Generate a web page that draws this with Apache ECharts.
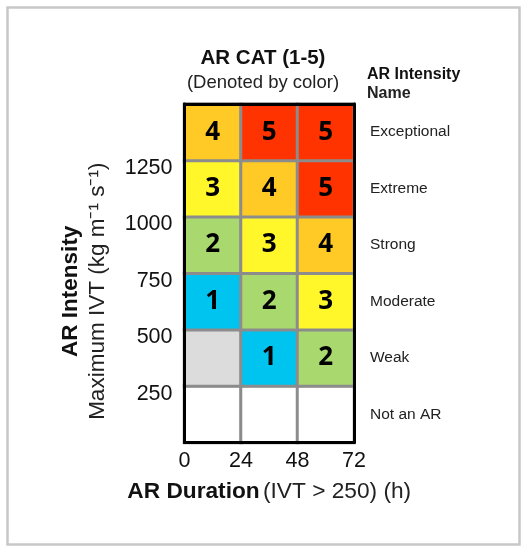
<!DOCTYPE html>
<html>
<head>
<meta charset="utf-8">
<script src="https://cdn.jsdelivr.net/npm/echarts@6/dist/echarts.min.js"></script>
<style>html,body{margin:0;padding:0;background:#fff}#c{width:526px;height:548px}</style>
</head>
<body>
<div id="c"></div>
<script>
// Duration bins (hours) – bottom axis tick labels
const durationTicks = [0, 24, 48, 72];
const durationBins = ['0-24', '24-48', '48-72'];
// Intensity bins (IVT, kg m-1 s-1) – left axis tick labels
const intensityTicks = [250, 500, 750, 1000, 1250];
const intensityNames = ['Not an AR', 'Weak', 'Moderate', 'Strong', 'Extreme', 'Exceptional'];
// AR category per cell, rows from bottom (Not an AR) to top (Exceptional)
// null = not an AR (white), 0 = weak & short (grey, no category)
const catRows = [
  [null, null, null],
  [0, 1, 2],
  [1, 2, 3],
  [2, 3, 4],
  [3, 4, 5],
  [4, 5, 5]
];
const catColors = {none: '#ffffff', 0: '#dcdcdc', 1: '#00c4f0', 2: '#a9d86e', 3: '#fff72a', 4: '#ffc926', 5: '#ff3300'};

const FONT = '"Liberation Sans", Arial, sans-serif';
const data = [];
catRows.forEach((row, yi) => row.forEach((v, xi) => {
  const key = v === null ? 'none' : v;
  data.push({
    value: [xi, yi, v === null ? -1 : v],
    itemStyle: {color: catColors[key]}
  });
}));

const chart = echarts.init(document.getElementById('c'), null, {renderer: 'canvas'});
const blackLine = {show: true, onZero: false, lineStyle: {color: '#000', width: 3}};
chart.setOption({
  animation: false,
  backgroundColor: '#fff',
  textStyle: {fontFamily: FONT},
  graphic: [{
    type: 'rect', left: 5, top: 5, z: -1,
    shape: {width: 512, height: 537},
    style: {fill: 'none', stroke: '#c8c8c8', lineWidth: 2.5}
  }],
  title: [{
    text: 'AR CAT (1-5)',
    subtext: '(Denoted by color)',
    left: 'center', top: 48, padding: 0, itemGap: 4.5,
    textStyle: {fontFamily: FONT, fontSize: 20.5, fontWeight: 'bold', color: '#111'},
    subtextStyle: {fontFamily: FONT, fontSize: 18.5, color: '#222'}
  }, {
    text: '{b|AR Intensity}\n{n|Name}',
    left: 367, top: 65, padding: 0,
    textStyle: {
      fontFamily: FONT,
      rich: {
        b: {fontFamily: FONT, fontSize: 16, fontWeight: 'bold', color: '#111', lineHeight: 19},
        n: {fontFamily: FONT, fontSize: 16, color: '#222', lineHeight: 19}
      }
    }
  }],
  grid: {left: 184.5, top: 104, width: 169.5, height: 338.5, containLabel: false, outerBoundsMode: 'none'},
  xAxis: [{
    type: 'category', data: durationBins, position: 'top', z: 5,
    axisLine: blackLine, axisTick: {show: false}, axisLabel: {show: false}, splitLine: {show: false}
  }, {
    type: 'value', min: durationTicks[0], max: durationTicks[durationTicks.length - 1], interval: 24,
    position: 'bottom', z: 5,
    axisLine: blackLine, axisTick: {show: false}, splitLine: {show: false},
    axisLabel: {fontFamily: FONT, fontSize: 21.5, color: '#111', margin: 8,
      formatter: v => durationTicks.includes(v) ? String(v) : ''},
    name: '{b|AR Duration} {n|(IVT > 250) (h)}',
    nameLocation: 'middle', nameGap: 38,
    nameTextStyle: {rich: {
      b: {fontFamily: FONT, fontSize: 22.7, fontWeight: 'bold', color: '#111'},
      n: {fontFamily: FONT, fontSize: 22.7, color: '#222'}
    }}
  }],
  yAxis: [{
    type: 'category', data: intensityNames, position: 'right', z: 5,
    axisLine: blackLine, axisTick: {show: false}, splitLine: {show: false},
    axisLabel: {fontFamily: FONT, fontSize: 15.5, color: '#222', margin: 16, align: 'left'}
  }, {
    type: 'value', min: 0, max: 1500, interval: 250, position: 'left', z: 5,
    axisLine: blackLine, axisTick: {show: false}, splitLine: {show: false},
    axisLabel: {fontFamily: FONT, fontSize: 21.5, color: '#111', margin: 12,
      verticalAlign: 'top', lineHeight: 15,
      formatter: v => intensityTicks.includes(v) ? String(v) : ''},
    name: '{b|AR Intensity}\n{n|Maximum IVT (kg m\u207B\u00B9 s\u207B\u00B9)}',
    nameLocation: 'middle', nameRotate: 90, nameGap: 73,
    nameTextStyle: {padding: [0, 36, 0, 0], rich: {
      b: {fontFamily: FONT, fontSize: 22.5, fontWeight: 'bold', color: '#111', lineHeight: 27, align: 'center'},
      n: {fontFamily: FONT, fontSize: 22.5, color: '#222', lineHeight: 27, align: 'center'}
    }}
  }],
  series: [{
    type: 'heatmap', xAxisIndex: 0, yAxisIndex: 0,
    data: data,
    itemStyle: {borderColor: '#8c8c8c', borderWidth: 3},
    label: {
      show: true,
      formatter: p => p.value[2] > 0 ? String(p.value[2]) : '',
      fontFamily: '"Open Sans", "Noto Sans", sans-serif', fontWeight: 'bold', fontSize: 26, color: '#000'
    },
    emphasis: {disabled: true}
  }]
});
</script>
</body>
</html>
